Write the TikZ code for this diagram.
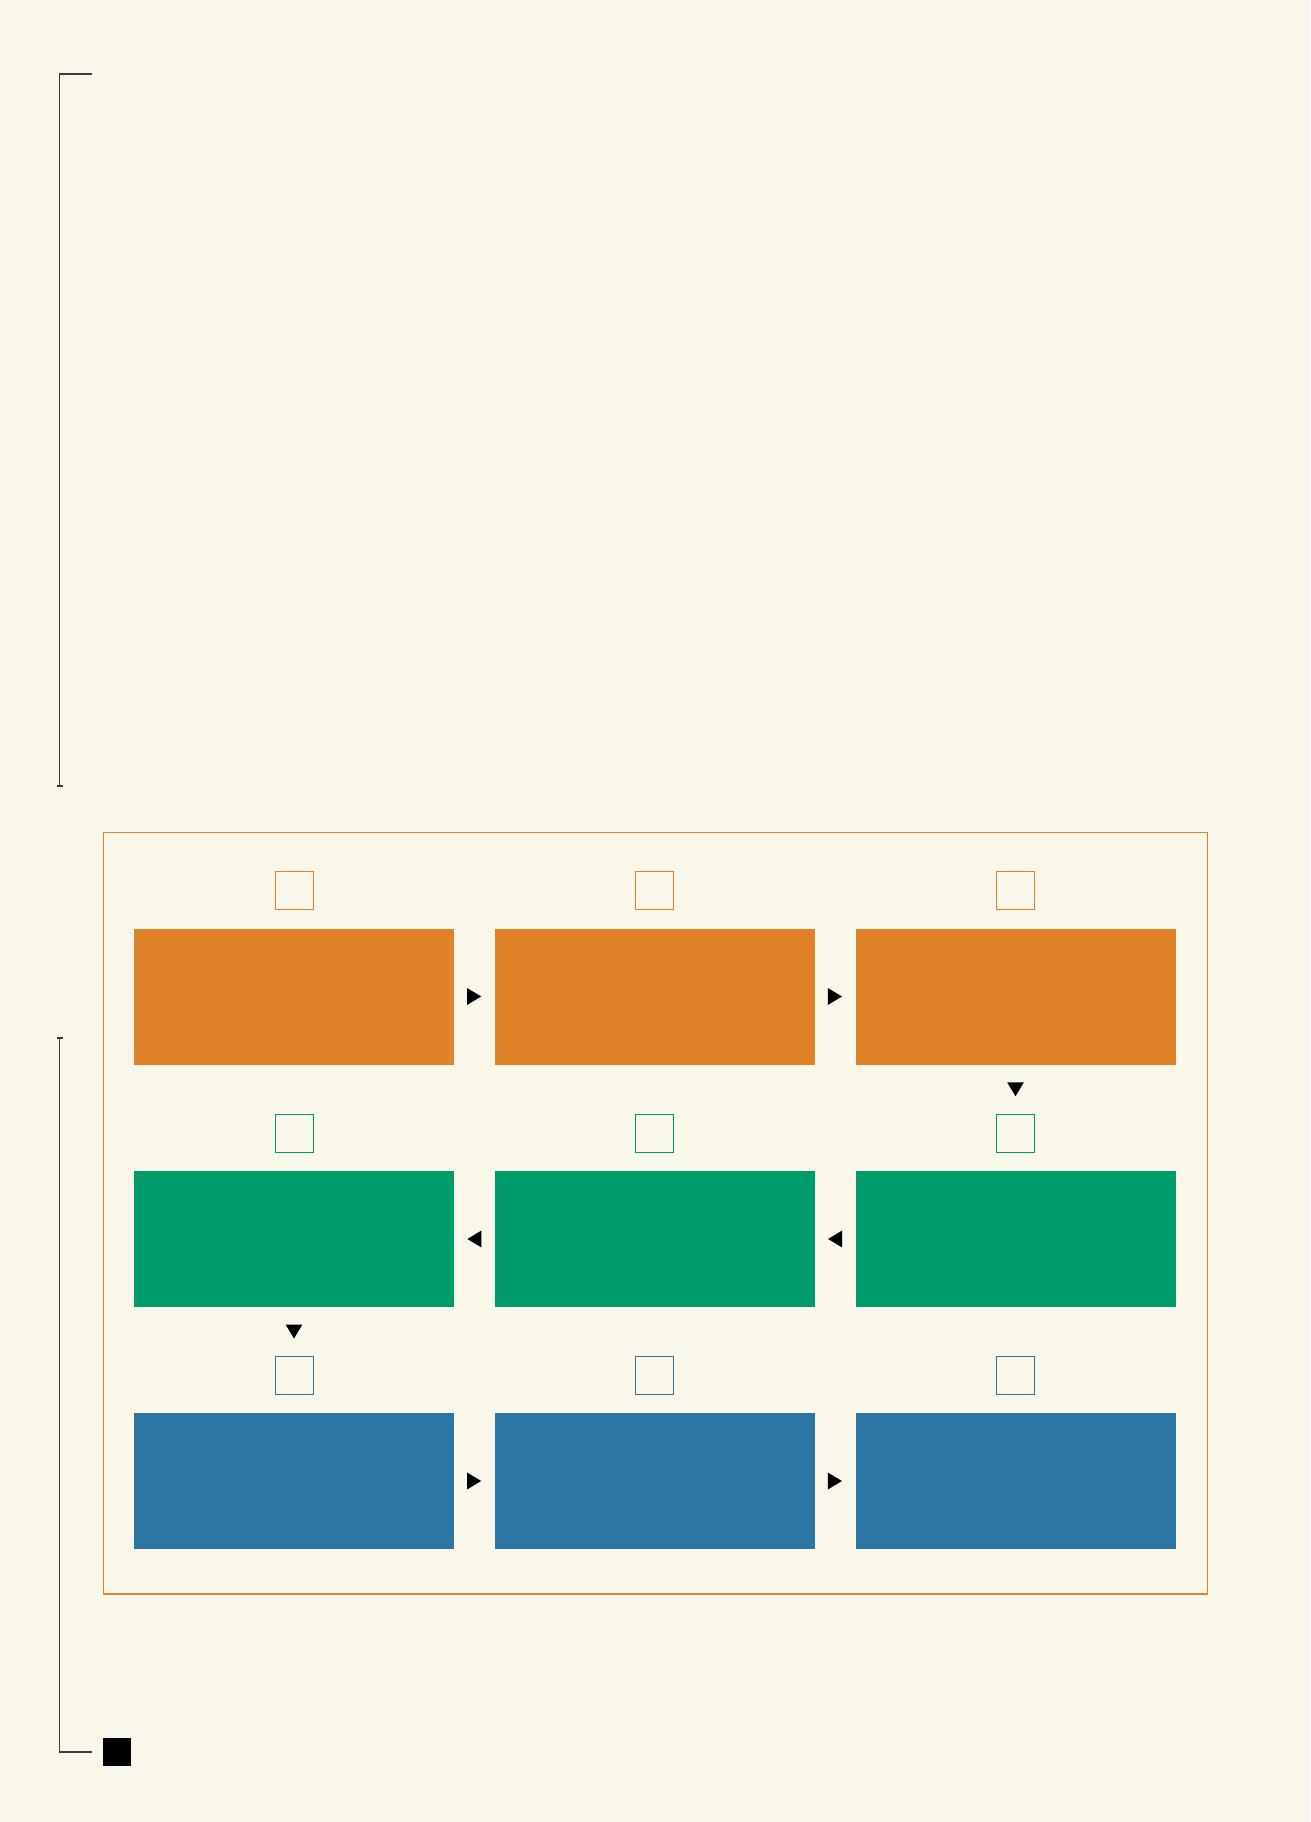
\documentclass[tikz,border=0pt]{standalone}
\usetikzlibrary{positioning,shapes.geometric}

\definecolor{paper}{HTML}{F9F6EA}
\definecolor{stageorange}{HTML}{E08228}
\definecolor{stagegreen}{HTML}{009B6A}
\definecolor{stageblue}{HTML}{2C76A3}
\definecolor{rulegrey}{HTML}{3C3C3C}

\tikzset{
    stagebox/.style={fill=#1, minimum width=320pt, minimum height=136pt, inner sep=0pt},
    tagbox/.style={draw=#1, line width=0.9pt, minimum size=38pt, inner sep=0pt},
    tri/.style={isosceles triangle, isosceles triangle apex angle=62, fill=black, inner sep=0pt, minimum height=14pt, minimum width=16pt},
    tri right/.style={tri, xshift=-2.3pt},
    tri left/.style={tri, shape border rotate=180, xshift=2.3pt},
    tri down/.style={tri, shape border rotate=270, yshift=2.3pt},
    rule/.style={draw=rulegrey, line width=1.2pt}
}

\begin{document}
\begin{tikzpicture}[x=1pt, y=-1pt]
    % Page
    \fill [paper] (0,0) rectangle (1310,1822);
    \useasboundingbox (0,0) rectangle (1310,1822);

    % Left brackets
    \draw [rule] (92,74) -- (59.5,74) -- (59.5,786);
    \draw [rule] (56.5,786) -- (62.5,786); % end tick
    \draw [rule] (56.5,1038) -- (62.5,1038); % end tick
    \draw [rule] (59.5,1038) -- (59.5,1752) -- (92,1752);
    \node [fill=black, minimum size=28pt, inner sep=0pt] (mark) at (117,1752) {};

    % Frame
    \draw [stageorange, line width=1.2pt] (103.5,832.5) rectangle (1207.5,1594);

    % Row 1
    \node [stagebox=stageorange] (b11) at (294,996.5) {};
    \node [stagebox=stageorange] (b12) at (654.5,996.5) {};
    \node [stagebox=stageorange] (b13) at (1015.5,996.5) {};
    \node [tagbox=stageorange, above=18pt of b11] (t11) {};
    \node [tagbox=stageorange, above=18pt of b12] (t12) {};
    \node [tagbox=stageorange, above=18pt of b13] (t13) {};

    % Row 2
    \node [stagebox=stagegreen] (b21) at (294,1239) {};
    \node [stagebox=stagegreen] (b22) at (654.5,1239) {};
    \node [stagebox=stagegreen] (b23) at (1015.5,1239) {};
    \node [tagbox=stagegreen, above=18pt of b21] (t21) {};
    \node [tagbox=stagegreen, above=18pt of b22] (t22) {};
    \node [tagbox=stagegreen, above=18pt of b23] (t23) {};

    % Row 3
    \node [stagebox=stageblue] (b31) at (294,1481) {};
    \node [stagebox=stageblue] (b32) at (654.5,1481) {};
    \node [stagebox=stageblue] (b33) at (1015.5,1481) {};
    \node [tagbox=stageblue, above=18pt of b31] (t31) {};
    \node [tagbox=stageblue, above=18pt of b32] (t32) {};
    \node [tagbox=stageblue, above=18pt of b33] (t33) {};

    % Flow markers
    \path (b11.east) -- (b12.west) node [midway, tri right] (a1) {};
    \path (b12.east) -- (b13.west) node [midway, tri right] (a2) {};
    \path (b13.south) -- (t23.north) node [midway, tri down] (a3) {};
    \path (b23.west) -- (b22.east) node [midway, tri left] (a4) {};
    \path (b22.west) -- (b21.east) node [midway, tri left] (a5) {};
    \path (b21.south) -- (t31.north) node [midway, tri down] (a6) {};
    \path (b31.east) -- (b32.west) node [midway, tri right] (a7) {};
    \path (b32.east) -- (b33.west) node [midway, tri right] (a8) {};
\end{tikzpicture}
\end{document}
